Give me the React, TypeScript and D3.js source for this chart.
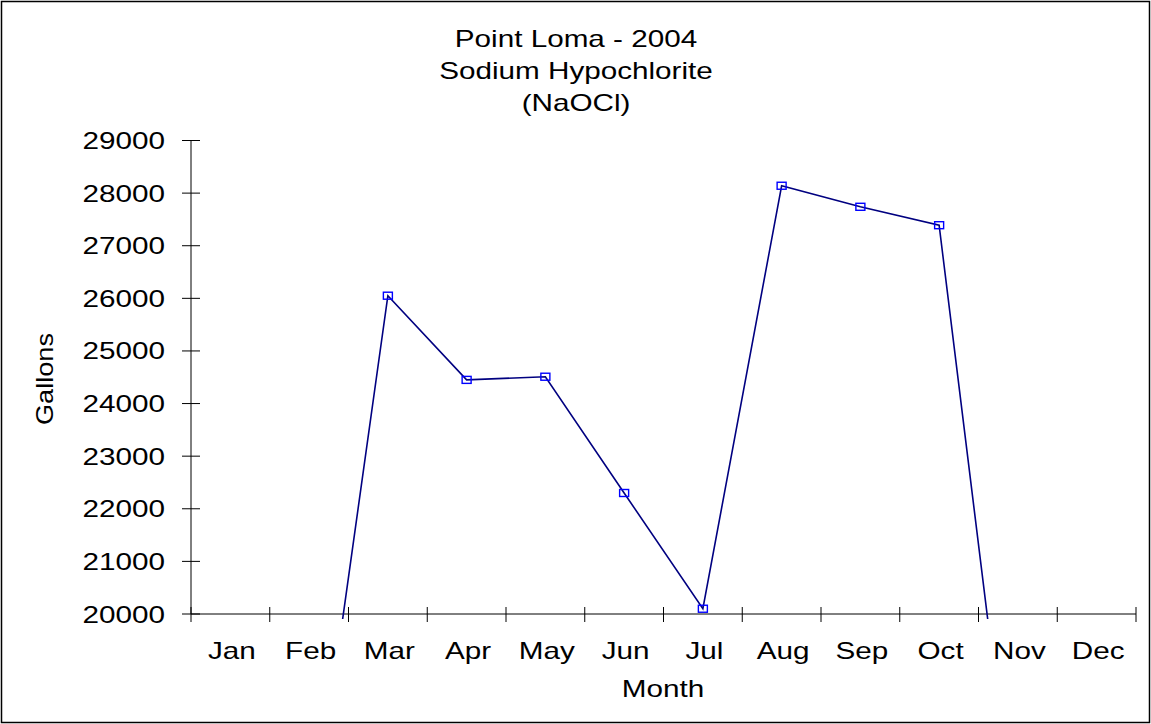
import React from 'react';
import * as d3 from 'd3';

// chart data
const months = ['Jan', 'Feb', 'Mar', 'Apr', 'May', 'Jun', 'Jul', 'Aug', 'Sep', 'Oct', 'Nov', 'Dec'];
const gallons: (number | null)[] = [null, 15350, 26050, 24450, 24510, 22300, 20100, 28140, 27740, 27390, 15250, null];
const yTicks = [20000, 21000, 22000, 23000, 24000, 25000, 26000, 27000, 28000, 29000];
const titleLines = ['Point Loma - 2004', 'Sodium Hypochlorite', '(NaOCl)'];

const W = 1151;
const H = 724;
const plot = {left: 191, right: 1136, top: 140.5, bottom: 614};
const FONT = '"Liberation Sans", Arial, sans-serif';
const STRETCH = 1.29; // text in the picture is wider than normal

// text squeezed/stretched horizontally around its anchor
const Label = ({x, y, anchor = 'middle', size = 23, sx = STRETCH, rotate = 0, children}: any) => (
    <g transform={`translate(${x},${y}) rotate(${rotate}) scale(${sx},1)`}>
        <text x={0} y={0} textAnchor={anchor} fontFamily={FONT} fontSize={size} fill="#000">{children}</text>
    </g>
);

export default function App() {
    const x = d3.scaleBand().domain(months).range([plot.left, plot.right]);
    const y = d3.scaleLinear().domain([20000, 29000]).range([plot.bottom, plot.top]);
    const cx = (m: string) => (x(m) as number) + x.bandwidth() / 2;

    const pts = months.map((m, i) => ({m, v: gallons[i]}));
    const line = d3.line<{m: string, v: number | null}>()
        .defined(d => d.v !== null)
        .x(d => cx(d.m))
        .y(d => y(d.v as number));

    const bounds = [...months.map(m => x(m) as number), plot.right];

    return (
        <svg width={W} height={H} style={{position: 'absolute', left: 0, top: 0, background: '#fff'}}>
            <defs>
                <clipPath id="plotclip">
                    <rect x={plot.left} y={plot.top - 10} width={plot.right - plot.left} height={plot.bottom - plot.top + 15}/>
                </clipPath>
            </defs>
            <rect x={1.5} y={1.5} width={W - 3} height={H - 3} fill="#fff" stroke="#000" strokeWidth={1.5}/>

            {titleLines.map((t, i) => (
                <Label key={t} x={576} y={46.5 + i * 32}>{t}</Label>
            ))}

            {/* y axis */}
            <line x1={plot.left} x2={plot.left} y1={plot.top} y2={plot.bottom} stroke="#000"/>
            {yTicks.map(t => (
                <g key={t}>
                    <line x1={plot.left - 9} x2={plot.left + 9} y1={y(t)} y2={y(t)} stroke="#000"/>
                    <Label x={165} y={y(t) + 8.5} anchor="end">{t}</Label>
                </g>
            ))}
            <Label x={53} y={379} rotate={-90} sx={1.18}>Gallons</Label>

            {/* x axis */}
            <line x1={plot.left} x2={plot.right} y1={plot.bottom} y2={plot.bottom} stroke="#000"/>
            {bounds.map((b, i) => (
                <line key={i} x1={b} x2={b} y1={plot.bottom - 7} y2={plot.bottom + 8} stroke="#000"/>
            ))}
            {months.map(m => (
                <Label key={m} x={cx(m) + 1.5} y={658.5}>{m}</Label>
            ))}
            <Label x={663} y={696.5}>Month</Label>

            {/* series */}
            <g clipPath="url(#plotclip)">
                <path d={line(pts) as string} fill="none" stroke="#000080" strokeWidth={1.6}/>
                {pts.filter(d => d.v !== null && d.v >= 20000).map(d => (
                    <rect key={d.m} x={cx(d.m) - 4.5} y={y(d.v as number) - 3.5} width={9} height={7}
                          fill="none" stroke="#0000ff" strokeWidth={1.4}/>
                ))}
            </g>
        </svg>
    );
}
